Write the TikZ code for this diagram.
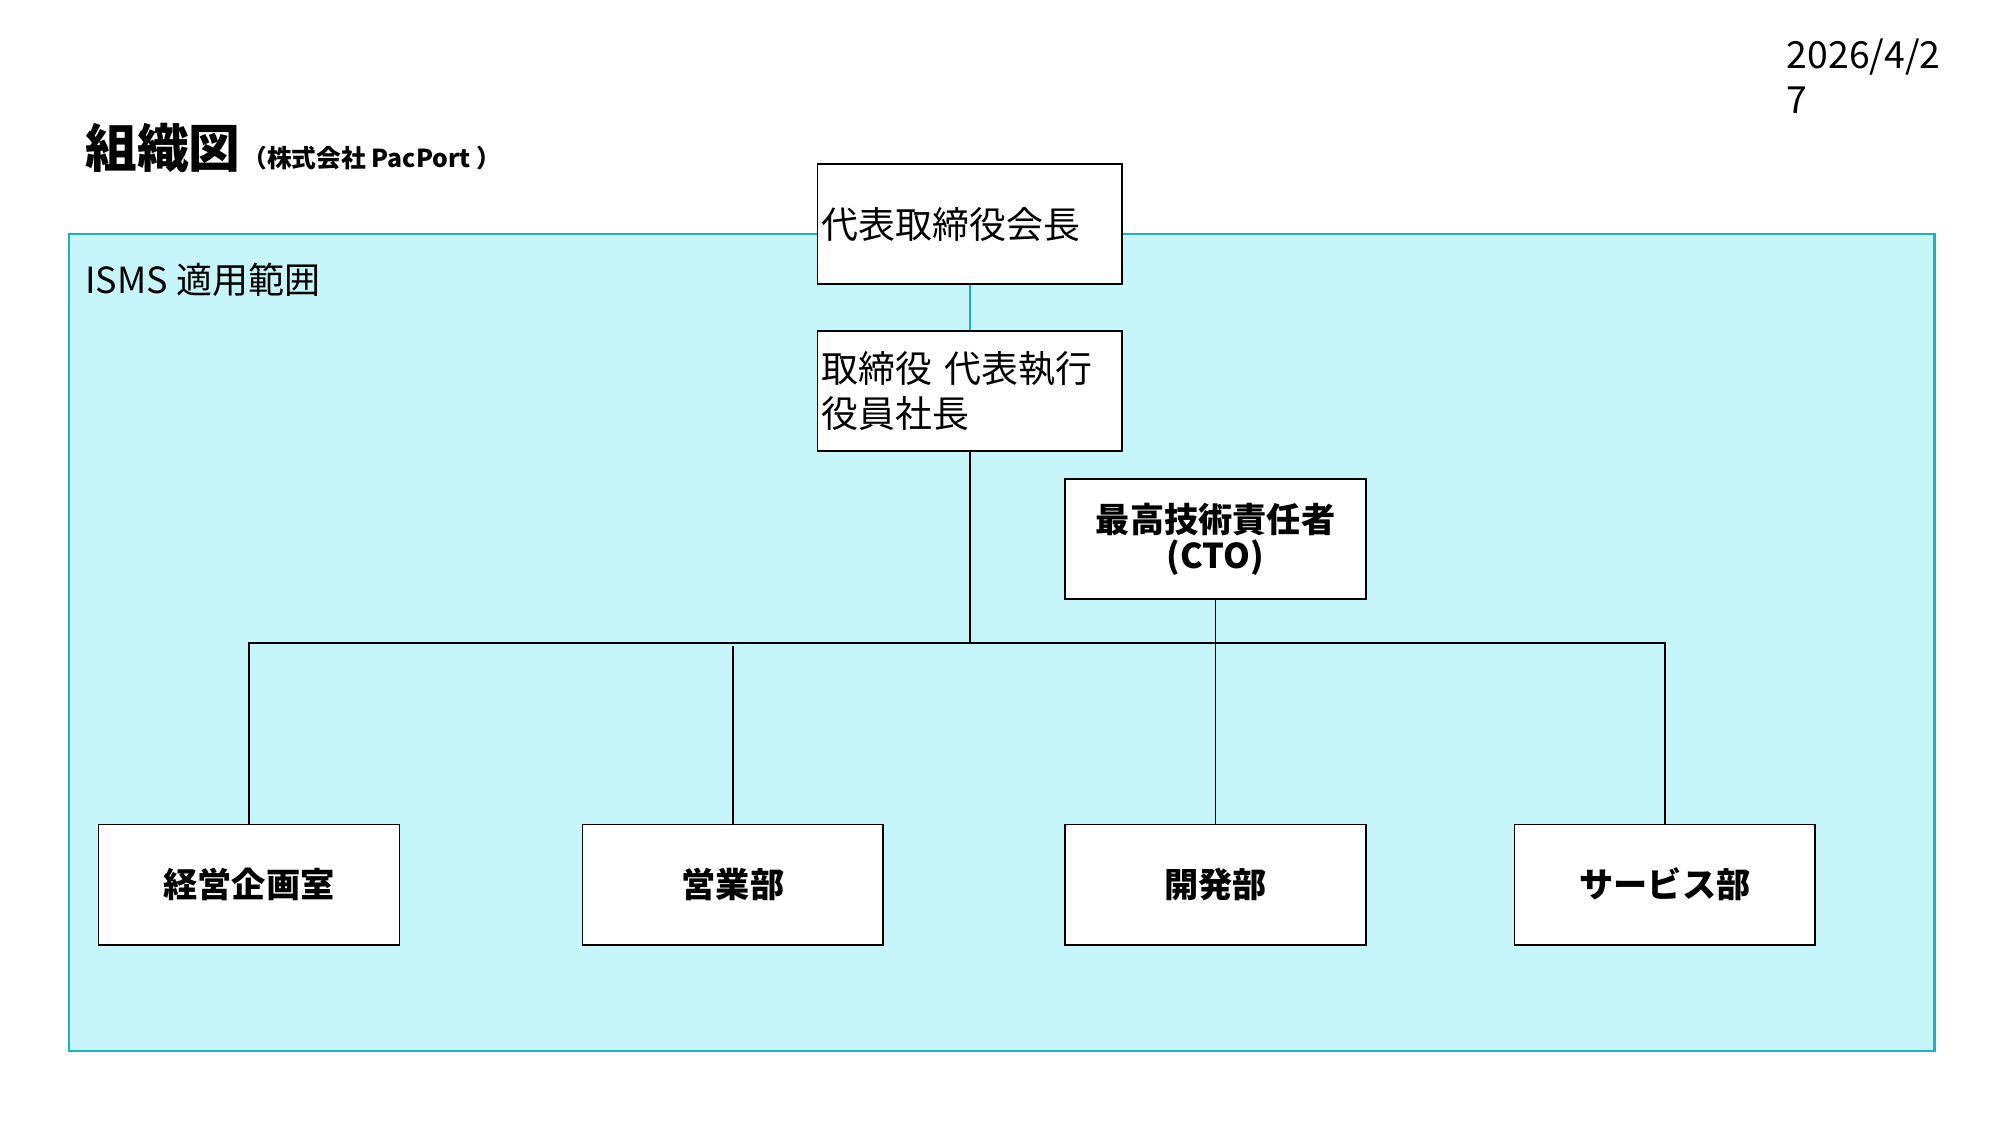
\documentclass[tikz,border=0pt]{standalone}
\usepackage{fontspec}
\setmainfont{Noto Sans CJK JP}
\usetikzlibrary{positioning}
\definecolor{ismsfill}{HTML}{C6F6F9}
\definecolor{ismsline}{HTML}{1AB3C6}
\tikzset{
  org/.style={draw,fill=white,minimum width=2.35cm,minimum height=0.94cm,inner sep=1pt,font=\fontsize{8.2}{10}\selectfont},
  dept/.style={org,font=\bfseries\fontsize{7.6}{8}\selectfont},
  link/.style={line width=0.4pt}
}
\begin{document}
\begin{tikzpicture}[x=1cm,y=-1cm]
\useasboundingbox (0,0) rectangle (15.63,8.79);
% ISMS scope
\draw[fill=ismsfill,draw=ismsline,line width=0.5pt] (0.54,1.83) rectangle (15.11,8.21);
\node[anchor=north west,font=\fontsize{8}{10}\selectfont,inner sep=0pt] (scope) at (0.66,2.05) {ISMS 適用範囲};
% title
\node[anchor=base west,inner sep=0pt,font=\bfseries\fontsize{11.5}{12}\selectfont] (title) at (0.66,1.31) {組織図};
\node[anchor=base west,inner sep=0pt,font=\bfseries\fontsize{5.5}{6}\selectfont] (company) at (title.base east) {（株式会社 PacPort ）};
\node[anchor=north west,inner sep=0pt,align=left,font=\fontsize{8.3}{10}\selectfont] (date) at (13.95,0.3) {2026/4/2\\7};
% boxes
\node[org,text width=2.31cm,align=left] (chair) at (7.575,1.75) {代表取締役会長};
\node[org,text width=2.31cm,align=left] (pres) at (7.575,3.055) {取締役 代表執行\\役員社長};
\node[dept,align=center] (cto) at (9.495,4.21) {最高技術責任者\\(CTO)};
\node[dept] (plan) at (1.945,6.91) {経営企画室};
\node[dept] (sales) at (5.725,6.91) {営業部};
\node[dept] (dev) at (9.495,6.91) {開発部};
\node[dept] (serv) at (13.005,6.91) {サービス部};
% connectors
\coordinate (bus) at (7.575,5.02);
\draw[ismsline,link] (chair) -- (pres);
\draw[link] (pres) -- (bus);
\draw[link] (plan.north) |- (bus) -| (serv.north);
\draw[link] (sales.north) -- ++(0,-1.39);
\draw[link] (cto) -- (dev);
\end{tikzpicture}
\end{document}
